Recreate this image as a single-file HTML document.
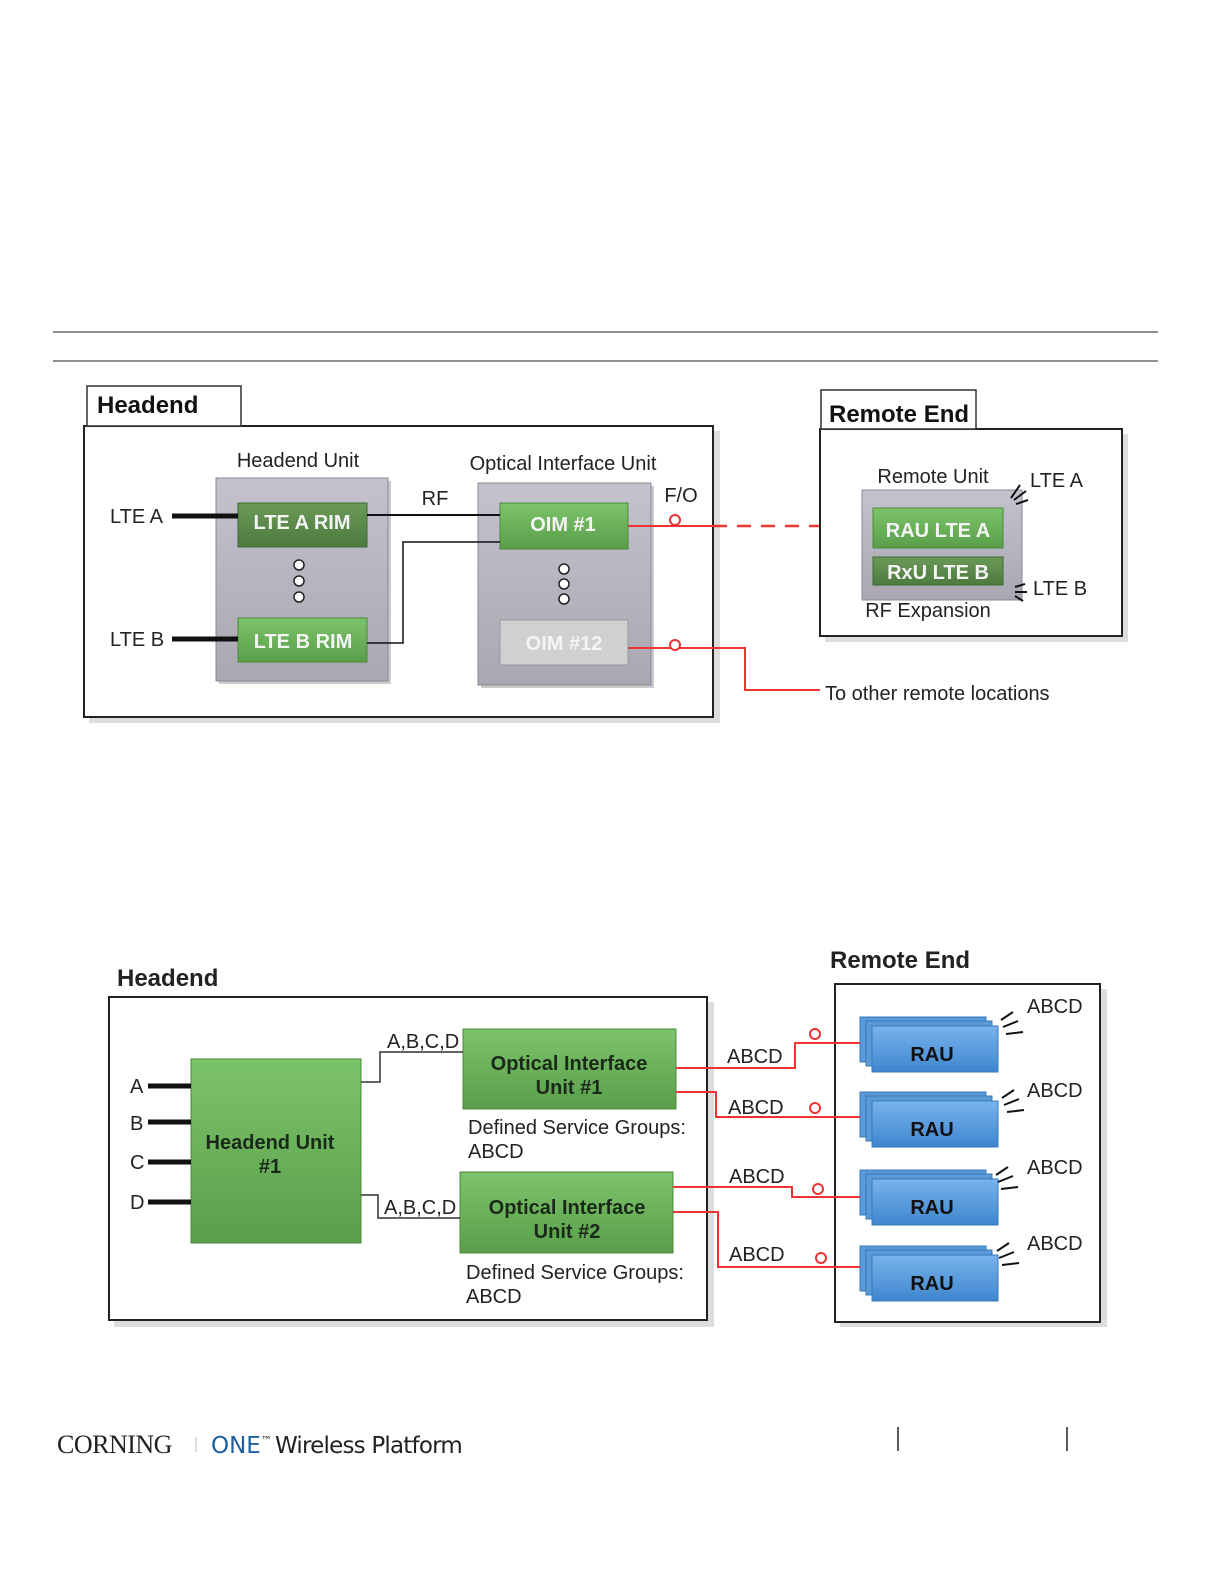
<!DOCTYPE html>
<html><head><meta charset="utf-8"><style>
html,body{margin:0;padding:0;background:#fff;overflow:hidden;width:1224px;height:1584px;}
svg{display:block;}
text{font-family:"Liberation Sans",Arial,sans-serif;}
</style></head><body>
<svg width="1224" height="1584" viewBox="0 0 1224 1584" xmlns="http://www.w3.org/2000/svg">
<defs>
<linearGradient id="gr" x1="0" y1="0" x2="0" y2="1"><stop offset="0" stop-color="#c4c2cc"/><stop offset="1" stop-color="#a9a7b2"/></linearGradient>
<linearGradient id="gn" x1="0" y1="0" x2="0" y2="1"><stop offset="0" stop-color="#7cc46a"/><stop offset="1" stop-color="#5a9e4a"/></linearGradient>
<linearGradient id="gd" x1="0" y1="0" x2="0" y2="1"><stop offset="0" stop-color="#6a9a58"/><stop offset="1" stop-color="#4e7a3e"/></linearGradient>
<linearGradient id="gb" x1="0" y1="0" x2="0" y2="1"><stop offset="0" stop-color="#78b4ec"/><stop offset="1" stop-color="#3f86cf"/></linearGradient>
</defs>
<line x1="53" y1="332" x2="1158" y2="332" stroke="#222" stroke-width="1"/>
<line x1="53" y1="361" x2="1158" y2="361" stroke="#222" stroke-width="1"/>

<!-- TOP DIAGRAM -->
<rect x="89" y="431" width="631" height="292" fill="#ddd"/>
<rect x="84" y="426" width="629" height="291" fill="#fff" stroke="#222" stroke-width="2"/>
<rect x="87" y="386" width="154" height="40" fill="#fff" stroke="#333" stroke-width="1.5"/>
<text x="97" y="413" font-size="24" font-weight="bold" fill="#111">Headend</text>
<text x="298" y="467" font-size="20" text-anchor="middle" fill="#222">Headend Unit</text>
<text x="563" y="470" font-size="20" text-anchor="middle" fill="#222">Optical Interface Unit</text>
<rect x="219" y="481" width="172" height="203" fill="#999" opacity="0.5"/>
<rect x="216" y="478" width="172" height="203" fill="url(#gr)" stroke="#8a8894"/>
<rect x="481" y="486" width="173" height="202" fill="#999" opacity="0.5"/>
<rect x="478" y="483" width="173" height="202" fill="url(#gr)" stroke="#8a8894"/>
<rect x="238" y="503" width="129" height="44" fill="url(#gd)" stroke="#3e6a30"/>
<text x="302" y="529" font-size="20" font-weight="bold" fill="#f4f4f4" text-anchor="middle">LTE A RIM</text>
<rect x="238" y="618" width="129" height="44" fill="url(#gn)" stroke="#4a8a3a"/>
<text x="303" y="648" font-size="20" font-weight="bold" fill="#f4f4f4" text-anchor="middle">LTE B RIM</text>
<rect x="500" y="503" width="128" height="46" fill="url(#gn)" stroke="#4a8a3a"/>
<text x="563" y="531" font-size="20" font-weight="bold" fill="#f4f4f4" text-anchor="middle">OIM #1</text>
<rect x="500" y="620" width="128" height="45" fill="#d0d0d0" stroke="#999"/>
<text x="564" y="650" font-size="20" font-weight="bold" fill="#f4f4f4" text-anchor="middle">OIM #12</text>
<g fill="#fff" stroke="#222" stroke-width="1.5">
<circle cx="299" cy="565" r="5"/><circle cx="299" cy="581" r="5"/><circle cx="299" cy="597" r="5"/>
<circle cx="564" cy="569" r="5"/><circle cx="564" cy="584" r="5"/><circle cx="564" cy="599" r="5"/>
</g>
<text x="110" y="523" font-size="20" fill="#222">LTE A</text>
<text x="110" y="646" font-size="20" fill="#222">LTE B</text>
<line x1="172" y1="516" x2="238" y2="516" stroke="#111" stroke-width="5"/>
<line x1="172" y1="639" x2="238" y2="639" stroke="#111" stroke-width="5"/>
<line x1="367" y1="515" x2="500" y2="515" stroke="#111" stroke-width="2"/>
<polyline points="367,643 403,643 403,542 500,542" fill="none" stroke="#111" stroke-width="1.5"/>
<text x="435" y="505" font-size="20" text-anchor="middle" fill="#222">RF</text>
<text x="681" y="502" font-size="20" text-anchor="middle" fill="#222">F/O</text>
<line x1="628" y1="526" x2="713" y2="526" stroke="#e33" stroke-width="2"/>
<line x1="713" y1="526" x2="820" y2="526" stroke="#e33" stroke-width="2.5" stroke-dasharray="14,10"/>
<line x1="820" y1="526" x2="873" y2="526" stroke="#e33" stroke-width="2"/>
<polyline points="628,648 745,648 745,690 820,690" fill="none" stroke="#e33" stroke-width="2"/>
<g fill="#fff" stroke="#e33" stroke-width="2">
<circle cx="675" cy="520" r="5"/><circle cx="675" cy="645" r="5"/><circle cx="846" cy="518" r="5"/>
</g>
<text x="825" y="700" font-size="20" fill="#222">To other remote locations</text>

<rect x="825" y="434" width="303" height="208" fill="#ddd"/>
<rect x="820" y="429" width="302" height="207" fill="#fff" stroke="#222" stroke-width="2"/>
<rect x="821" y="390" width="155" height="39" fill="#fff" stroke="#333" stroke-width="1.5"/>
<text x="829" y="422" font-size="24" font-weight="bold" fill="#111">Remote End</text>
<text x="933" y="483" font-size="20" text-anchor="middle" fill="#222">Remote Unit</text>
<rect x="862" y="490" width="160" height="110" fill="url(#gr)" stroke="#8a8894"/>
<rect x="873" y="508" width="130" height="40" fill="url(#gn)" stroke="#4a8a3a"/>
<text x="938" y="537" font-size="20" font-weight="bold" fill="#f4f4f4" text-anchor="middle">RAU LTE A</text>
<rect x="873" y="557" width="130" height="28" fill="url(#gd)" stroke="#3e6a30"/>
<text x="938" y="579" font-size="20" font-weight="bold" fill="#f4f4f4" text-anchor="middle">RxU LTE B</text>
<text x="1030" y="487" font-size="20" fill="#222">LTE A</text>
<text x="1033" y="595" font-size="20" fill="#222">LTE B</text>
<text x="928" y="617" font-size="20" text-anchor="middle" fill="#222">RF Expansion</text>
<g stroke="#111" stroke-width="2">
<line x1="1011" y1="498" x2="1020" y2="485"/><line x1="1014" y1="500" x2="1026" y2="491"/><line x1="1016" y1="504" x2="1028" y2="500"/>
<line x1="1015" y1="587" x2="1025" y2="584"/><line x1="1015" y1="592" x2="1027" y2="592"/><line x1="1015" y1="596" x2="1023" y2="601"/>
</g>

<!-- BOTTOM DIAGRAM -->
<text x="117" y="986" font-size="24" font-weight="bold" fill="#222">Headend</text>
<text x="830" y="968" font-size="24" font-weight="bold" fill="#222">Remote End</text>
<rect x="114" y="1002" width="600" height="325" fill="#ddd"/>
<rect x="109" y="997" width="598" height="323" fill="#fff" stroke="#222" stroke-width="2"/>
<rect x="840" y="989" width="267" height="338" fill="#ddd"/>
<rect x="835" y="984" width="265" height="338" fill="#fff" stroke="#222" stroke-width="2"/>
<rect x="191" y="1059" width="170" height="184" fill="url(#gn)" stroke="#4a8a3a"/>
<text x="270" y="1149" font-size="20" font-weight="bold" fill="#1a2a1a" text-anchor="middle">Headend Unit</text>
<text x="270" y="1173" font-size="20" font-weight="bold" fill="#1a2a1a" text-anchor="middle">#1</text>
<g font-size="20" fill="#222">
<text x="130" y="1093">A</text><text x="130" y="1130">B</text><text x="130" y="1169">C</text><text x="130" y="1209">D</text>
</g>
<g stroke="#111" stroke-width="5">
<line x1="148" y1="1086" x2="191" y2="1086"/><line x1="148" y1="1122" x2="191" y2="1122"/><line x1="148" y1="1162" x2="191" y2="1162"/><line x1="148" y1="1202" x2="191" y2="1202"/>
</g>
<rect x="463" y="1029" width="213" height="80" fill="url(#gn)" stroke="#4a8a3a"/>
<text x="569" y="1070" font-size="20" font-weight="bold" fill="#1a2a1a" text-anchor="middle">Optical Interface</text>
<text x="569" y="1094" font-size="20" font-weight="bold" fill="#1a2a1a" text-anchor="middle">Unit #1</text>
<rect x="460" y="1172" width="213" height="81" fill="url(#gn)" stroke="#4a8a3a"/>
<text x="567" y="1214" font-size="20" font-weight="bold" fill="#1a2a1a" text-anchor="middle">Optical Interface</text>
<text x="567" y="1238" font-size="20" font-weight="bold" fill="#1a2a1a" text-anchor="middle">Unit #2</text>
<polyline points="361,1082 380,1082 380,1052 463,1052" fill="none" stroke="#333" stroke-width="1.5"/>
<polyline points="361,1195 378,1195 378,1218 460,1218" fill="none" stroke="#333" stroke-width="1.5"/>
<text x="387" y="1048" font-size="20" fill="#222">A,B,C,D</text>
<text x="384" y="1214" font-size="20" fill="#222">A,B,C,D</text>
<g font-size="20" fill="#222">
<text x="468" y="1134">Defined Service Groups:</text><text x="468" y="1158">ABCD</text>
<text x="466" y="1279">Defined Service Groups:</text><text x="466" y="1303">ABCD</text>
<text x="727" y="1063">ABCD</text><text x="728" y="1114">ABCD</text><text x="729" y="1183">ABCD</text><text x="729" y="1261">ABCD</text>
</g>
<g fill="none" stroke="#e33" stroke-width="2">
<polyline points="676,1068 795,1068 795,1043 860,1043"/>
<polyline points="676,1092 716,1092 716,1117 860,1117"/>
<polyline points="673,1187 792,1187 792,1197 860,1197"/>
<polyline points="673,1212 718,1212 718,1267 860,1267"/>
</g>
<g fill="#fff" stroke="#e33" stroke-width="2">
<circle cx="815" cy="1034" r="5"/><circle cx="815" cy="1108" r="5"/><circle cx="818" cy="1189" r="5"/><circle cx="821" cy="1258" r="5"/>
</g>
<g>
<g transform="translate(0,0)">
<rect x="860" y="1017" width="126" height="45" fill="#5a9ad8" stroke="#3b78b8"/>
<rect x="866" y="1021" width="126" height="45" fill="#5a9ad8" stroke="#3b78b8"/>
<rect x="872" y="1026" width="126" height="46" fill="url(#gb)" stroke="#3b78b8"/>
<text x="932" y="1061" font-size="20" font-weight="bold" fill="#111" text-anchor="middle">RAU</text>
</g>
<g transform="translate(0,75)">
<rect x="860" y="1017" width="126" height="45" fill="#5a9ad8" stroke="#3b78b8"/>
<rect x="866" y="1021" width="126" height="45" fill="#5a9ad8" stroke="#3b78b8"/>
<rect x="872" y="1026" width="126" height="46" fill="url(#gb)" stroke="#3b78b8"/>
<text x="932" y="1061" font-size="20" font-weight="bold" fill="#111" text-anchor="middle">RAU</text>
</g>
<g transform="translate(0,153)">
<rect x="860" y="1017" width="126" height="45" fill="#5a9ad8" stroke="#3b78b8"/>
<rect x="866" y="1021" width="126" height="45" fill="#5a9ad8" stroke="#3b78b8"/>
<rect x="872" y="1026" width="126" height="46" fill="url(#gb)" stroke="#3b78b8"/>
<text x="932" y="1061" font-size="20" font-weight="bold" fill="#111" text-anchor="middle">RAU</text>
</g>
<g transform="translate(0,229)">
<rect x="860" y="1017" width="126" height="45" fill="#5a9ad8" stroke="#3b78b8"/>
<rect x="866" y="1021" width="126" height="45" fill="#5a9ad8" stroke="#3b78b8"/>
<rect x="872" y="1026" width="126" height="46" fill="url(#gb)" stroke="#3b78b8"/>
<text x="932" y="1061" font-size="20" font-weight="bold" fill="#111" text-anchor="middle">RAU</text>
</g>
</g>
<g font-size="20" fill="#222">
<text x="1027" y="1013">ABCD</text><text x="1027" y="1097">ABCD</text><text x="1027" y="1174">ABCD</text><text x="1027" y="1250">ABCD</text>
</g>
<g stroke="#111" stroke-width="2">
<g><line x1="1001" y1="1020" x2="1013" y2="1012"/><line x1="1003" y1="1027" x2="1018" y2="1021"/><line x1="1006" y1="1034" x2="1023" y2="1032"/></g>
<g transform="translate(1,78)"><line x1="1001" y1="1020" x2="1013" y2="1012"/><line x1="1003" y1="1027" x2="1018" y2="1021"/><line x1="1006" y1="1034" x2="1023" y2="1032"/></g>
<g transform="translate(-5,155)"><line x1="1001" y1="1020" x2="1013" y2="1012"/><line x1="1003" y1="1027" x2="1018" y2="1021"/><line x1="1006" y1="1034" x2="1023" y2="1032"/></g>
<g transform="translate(-4,231)"><line x1="1001" y1="1020" x2="1013" y2="1012"/><line x1="1003" y1="1027" x2="1018" y2="1021"/><line x1="1006" y1="1034" x2="1023" y2="1032"/></g>
</g>

<!-- FOOTER -->
<text x="57" y="1453" font-size="26" fill="#222" letter-spacing="-0.5" style="font-family:'Liberation Serif',serif">CORNING</text>
<line x1="196" y1="1437" x2="196" y2="1452" stroke="#bbb" stroke-width="1"/>
<text x="211" y="1453" font-size="23" fill="#1e5fa0" style="font-family:'DejaVu Sans',sans-serif">ONE<tspan font-size="11" dy="-9" fill="#222">™</tspan></text>
<text x="275" y="1453" font-size="23" fill="#222" style="font-family:'DejaVu Sans',sans-serif" letter-spacing="-0.8">Wireless Platform</text>
<line x1="898" y1="1427" x2="898" y2="1451" stroke="#222" stroke-width="1.5"/>
<line x1="1067" y1="1427" x2="1067" y2="1451" stroke="#222" stroke-width="1.5"/>
</svg>
</body></html>
